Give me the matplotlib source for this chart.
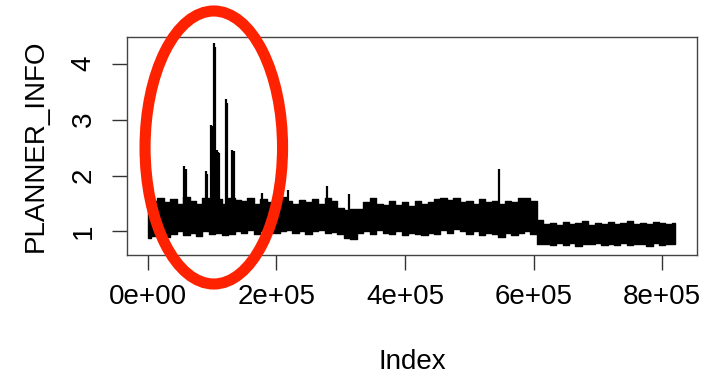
import numpy as np
import matplotlib
matplotlib.use('Agg')
import matplotlib.pyplot as plt
from matplotlib.patches import Ellipse

plt.rcParams['font.family'] = ['Liberation Sans', 'DejaVu Sans']

# band envelope of PLANNER_INFO, read every 1e4 index (k = 0..82)
step = 10000
upper = [1.42, 1.55, 1.60, 1.52, 1.58, 1.50, 1.62, 1.55, 1.50, 1.60, 1.55, 1.58, 1.50, 1.60, 1.56,
         1.55, 1.60, 1.50, 1.58, 1.52, 1.56, 1.62, 1.55, 1.50, 1.57, 1.53, 1.58, 1.50, 1.60, 1.55,
         1.42, 1.38, 1.40, 1.40, 1.52, 1.60, 1.50, 1.48, 1.55, 1.48, 1.52, 1.45, 1.55, 1.50, 1.52,
         1.58, 1.60, 1.56, 1.60, 1.52, 1.55, 1.50, 1.58, 1.52, 1.55, 1.50, 1.55, 1.52, 1.60,
         1.60, 1.55, 1.20,
         1.14, 1.16, 1.12, 1.17, 1.13, 1.15, 1.18, 1.12, 1.16, 1.14, 1.17, 1.13, 1.15, 1.18, 1.14,
         1.16, 1.13, 1.17, 1.15, 1.14, 1.16]
lower = [0.88, 0.92, 0.98, 0.90, 0.95, 1.00, 0.93, 0.97, 0.92, 1.00, 0.95, 0.98, 0.93, 0.96, 1.00,
         0.98, 1.02, 0.96, 1.00, 1.04, 0.97, 1.00, 1.03, 0.98, 1.01, 0.96, 1.00, 1.02, 0.97, 0.99,
         0.95, 0.88, 0.86, 0.98, 1.00, 0.96, 1.02, 0.97, 0.95, 1.00, 0.94, 0.98, 0.96, 0.93, 0.97,
         0.95, 1.02, 0.98, 1.04, 1.00, 0.96, 1.00, 0.93, 0.98, 0.95, 0.90, 0.97, 0.94, 0.98,
         1.00, 0.95, 0.78,
         0.78, 0.75, 0.80, 0.76, 0.79, 0.74, 0.78, 0.77, 0.80, 0.75, 0.78, 0.76, 0.79, 0.75, 0.78,
         0.77, 0.74, 0.79, 0.76, 0.78, 0.77]

# spikes sticking out of the band
spike_idx = [56000, 59500, 90000, 92500, 99000, 101500, 103000, 104000, 107000, 109500, 111500,
             121000, 123500, 131500, 134500, 177000, 218500, 279000, 313000, 546000]
spike_top = [2.17, 2.12, 2.08, 2.02, 2.90, 2.88, 4.36, 4.30, 2.45, 2.42, 2.40,
             3.36, 3.30, 2.45, 2.43, 1.68, 1.75, 1.81, 1.67, 2.12]

xticks = [0, 200000, 400000, 600000, 800000]
xticklabels = ['0e+00', '2e+05', '4e+05', '6e+05', '8e+05']
yticks = [1, 2, 3, 4]

fig = plt.figure(figsize=(7.06, 3.77), dpi=100)
ax = fig.add_axes([0.1803, 0.3236, 0.8074, 0.5775])

idx = np.arange(len(upper)) * step
ax.fill_between(idx, lower, upper, step='mid', color='black', linewidth=1.0)
ax.vlines(spike_idx, 1.2, spike_top, color='black', linewidth=1.6)

ax.set_xlim(-31900, 854600)
ax.set_ylim(0.58, 4.47)
ax.set_xticks(xticks)
ax.set_xticklabels(xticklabels)
ax.set_yticks(yticks)
ax.set_yticklabels([str(v) for v in yticks], rotation=90, va='center')
ax.tick_params(axis='both', labelsize=20, length=11, width=1.0, color='#333333')
ax.tick_params(axis='x', pad=10)
ax.tick_params(axis='y', pad=11)
for s in ax.spines.values():
    s.set_color('#444444')
    s.set_linewidth(1.0)

ax.set_xlabel('Index', fontsize=20, labelpad=28)
ax.set_ylabel('PLANNER_INFO', fontsize=20, labelpad=16)

# red highlight circle
ring = Ellipse((213.8 / 706, 1 - 147.5 / 377), 137.5 / 706, 273 / 377,
               transform=fig.transFigure, fill=False, edgecolor='#ff2200', linewidth=8)
fig.add_artist(ring)

fig.savefig('out.png', dpi=100)
